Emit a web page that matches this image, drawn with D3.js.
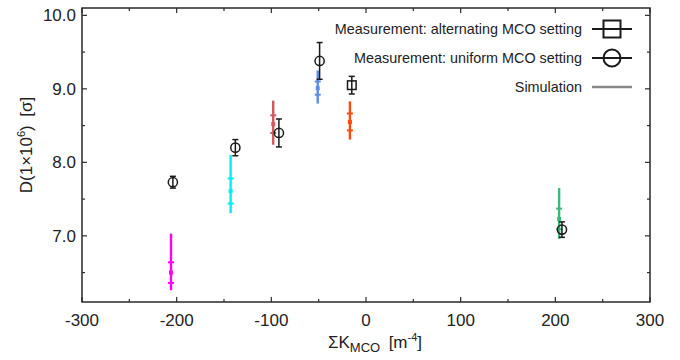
<!DOCTYPE html>
<html>
<head>
<meta charset="utf-8">
<script src="https://cdn.jsdelivr.net/npm/d3@7"></script>
<style>
  body { margin: 0; background: #fff; }
  svg { display: block; font-family: "Liberation Sans", Arial, sans-serif; }
</style>
</head>
<body>
<svg id="chart" width="680" height="360"></svg>
<script>
// simulation (one colour per MCO setting): mean, +-sigma ticks, min..max line
var simColors = ["#ff00ff", "#00f0f0", "#d05a5e", "#5b8de6", "#ff4a0a", "#3cb878"];
var simK      = [-206, -143, -98, -51, -17, 204];
var simMean   = [6.50, 7.61, 8.52, 9.01, 8.55, 7.23];
var simSigma  = [0.14, 0.17, 0.12, 0.09, 0.115, 0.14];
var simMin    = [6.26, 7.31, 8.24, 8.80, 8.31, 6.96];
var simMax    = [7.03, 8.10, 8.84, 9.25, 8.83, 7.65];

// measurement, uniform MCO setting (circles)
var uniK   = [-204, -138, -92, -49, 207];
var uniD   = [7.73, 8.20, 8.40, 9.38, 7.085];
var uniErr = [0.08, 0.11, 0.19, 0.25, 0.105];

// measurement, alternating MCO setting (squares)
var altK   = [-15];
var altD   = [9.05];
var altErr = [0.12];

var xTicks = [-300, -200, -100, 0, 100, 200, 300];
var yTicks = [7.0, 8.0, 9.0, 10.0];

var legendLabels = ["Measurement: alternating MCO setting", "Measurement: uniform MCO setting", "Simulation"];

var svg = d3.select("#chart");
var pL = 82, pR = 650, pT = 8, pB = 302;

var x = d3.scaleLinear().domain([-300, 300]).range([pL, pR]);
var y = d3.scaleLinear().domain([6.1, 10.1]).range([pB, pT]);

var axisColor = "#2a2a2a";

//-------------------------------
// axes, ticks pointing inward on all four sides
var minorX = d3.range(-250, 300, 100);
var minorY = d3.range(6.5, 10.1, 1);

var gAx = svg.append("g").attr("stroke", axisColor);

function tickLines(vals, len, side) {
  vals.forEach(function(v) {
    if (side === "bottom") gAx.append("line").attr("x1", x(v)).attr("x2", x(v)).attr("y1", pB).attr("y2", pB - len);
    if (side === "top") gAx.append("line").attr("x1", x(v)).attr("x2", x(v)).attr("y1", pT).attr("y2", pT + len);
    if (side === "left") gAx.append("line").attr("y1", y(v)).attr("y2", y(v)).attr("x1", pL).attr("x2", pL + len);
    if (side === "right") gAx.append("line").attr("y1", y(v)).attr("y2", y(v)).attr("x1", pR).attr("x2", pR - len);
  });
}
tickLines(xTicks, 5, "bottom");
tickLines(minorX, 3, "bottom");
tickLines(xTicks, 5, "top");
tickLines(minorX, 3, "top");
tickLines(yTicks, 5, "left");
tickLines(minorY, 3, "left");
tickLines(yTicks, 5, "right");
tickLines(minorY, 3, "right");
gAx.selectAll("line").attr("stroke-width", 1.2);

svg.append("rect")
  .attr("x", pL).attr("y", pT)
  .attr("width", pR - pL).attr("height", pB - pT)
  .attr("fill", "none").attr("stroke", axisColor).attr("stroke-width", 1.5);

svg.append("g").selectAll("text").data(xTicks).enter().append("text")
  .attr("x", function(d) { return x(d); })
  .attr("y", 326)
  .attr("text-anchor", "middle")
  .attr("font-size", 17)
  .attr("fill", "#222")
  .text(function(d) { return d; });

svg.append("g").selectAll("text").data(yTicks).enter().append("text")
  .attr("x", 76)
  .attr("y", function(d) { return y(d) + 6; })
  .attr("text-anchor", "end")
  .attr("font-size", 17)
  .attr("fill", "#222")
  .text(function(d) { return d3.format(".1f")(d); });

// axis titles
var xt = svg.append("text")
  .attr("x", 375).attr("y", 348)
  .attr("text-anchor", "middle")
  .attr("font-size", 17)
  .attr("fill", "#222");
xt.append("tspan").text("\u03A3K");
xt.append("tspan").attr("font-size", 13).attr("dy", 4).text("MCO");
xt.append("tspan").attr("dy", -4).text("\u2002[m");
xt.append("tspan").attr("font-size", 11).attr("dy", -7).text("-4");
xt.append("tspan").attr("dy", 7).text("]");

var yt = svg.append("text")
  .attr("transform", "translate(32,145) rotate(-90)")
  .attr("text-anchor", "middle")
  .attr("font-size", 17)
  .attr("fill", "#222");
yt.append("tspan").text("D(1\u00D710");
yt.append("tspan").attr("font-size", 11).attr("dy", -7).text("6");
yt.append("tspan").attr("dy", 7).text(")\u2002[\u03C3]");

//-------------------------------
// simulation bars
var gSim = svg.append("g");
simK.forEach(function(k, i) {
  var g = gSim.append("g").attr("stroke", simColors[i]).attr("fill", simColors[i]);
  g.append("line")
    .attr("x1", x(k)).attr("x2", x(k))
    .attr("y1", y(simMin[i])).attr("y2", y(simMax[i]))
    .attr("stroke-width", 2.4);
  [simMean[i] - simSigma[i], simMean[i] + simSigma[i]].forEach(function(v) {
    g.append("line")
      .attr("x1", x(k) - 3).attr("x2", x(k) + 3)
      .attr("y1", y(v)).attr("y2", y(v))
      .attr("stroke-width", 2);
  });
  g.append("rect")
    .attr("x", x(k) - 2).attr("y", y(simMean[i]) - 2)
    .attr("width", 4).attr("height", 4)
    .attr("stroke", "none");
});

//-------------------------------
// measurements
function errBar(g, k, d, e) {
  g.append("line").attr("x1", x(k)).attr("x2", x(k)).attr("y1", y(d - e)).attr("y2", y(d + e));
  g.append("line").attr("x1", x(k) - 3).attr("x2", x(k) + 3).attr("y1", y(d - e)).attr("y2", y(d - e));
  g.append("line").attr("x1", x(k) - 3).attr("x2", x(k) + 3).attr("y1", y(d + e)).attr("y2", y(d + e));
}

var gMeas = svg.append("g").attr("stroke", "#1a1a1a").attr("stroke-width", 1.5).attr("fill", "none");
uniK.forEach(function(k, i) {
  errBar(gMeas, k, uniD[i], uniErr[i]);
  gMeas.append("circle").attr("cx", x(k)).attr("cy", y(uniD[i])).attr("r", 4.6);
});
altK.forEach(function(k, i) {
  errBar(gMeas, k, altD[i], altErr[i]);
  gMeas.append("rect").attr("x", x(k) - 4.3).attr("y", y(altD[i]) - 4.3).attr("width", 8.6).attr("height", 8.6);
});

//-------------------------------
// legend
var legY = [29, 58, 87];
var leg = svg.append("g");
legendLabels.forEach(function(lab, i) {
  leg.append("text")
    .attr("x", 582).attr("y", legY[i] + 5)
    .attr("text-anchor", "end")
    .attr("font-size", 14.4)
    .attr("fill", "#222")
    .text(lab);
  leg.append("line")
    .attr("x1", 592).attr("x2", 632)
    .attr("y1", legY[i]).attr("y2", legY[i])
    .attr("stroke", i < 2 ? "#1a1a1a" : "#888")
    .attr("stroke-width", i < 2 ? 2 : 2.5);
});
leg.append("rect").attr("x", 603.5).attr("y", legY[0] - 8.5).attr("width", 17).attr("height", 17)
  .attr("fill", "none").attr("stroke", "#1a1a1a").attr("stroke-width", 2);
leg.append("circle").attr("cx", 612).attr("cy", legY[1]).attr("r", 8.5)
  .attr("fill", "none").attr("stroke", "#1a1a1a").attr("stroke-width", 2);
</script>
</body>
</html>
